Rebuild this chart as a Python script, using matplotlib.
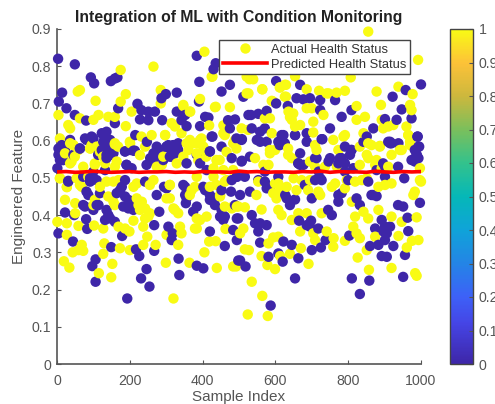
import numpy as np
import matplotlib
matplotlib.use("Agg")
import matplotlib.pyplot as plt
from matplotlib.colors import LinearSegmentedColormap
from matplotlib.lines import Line2D

plt.rcParams['font.family'] = ['Liberation Sans', 'DejaVu Sans']

# status 0 points
blue_x = [3,49,93,102,148,159,166,14,5,26,49,80,168,159,384,391,430,436,452,475,329,299,287,221,232,251,269,228,251,289,329,352,356,342,390,393,407,416,427,470,489,475,512,526,
 77,95,123,136,127,146,123,136,63,36,13,8,17,1,187,210,215,247,274,265,261,284,301,320,329,310,191,205,384,420,393,452,493,507,507,530,100,91,31,
 193,254,231,246,106,97,106,226,217,267,336,334,384,402,149,44,4,22,47,80,83,179,267,306,318,315,420,461,498,484,494,448,457,434,420,354,384,281,274,352,402,352,452,478,489,205,196,173,187,242,86,72,109,100,141,132,159,118,31,91,196,210,294,494,
 4,8,132,191,265,246,283,301,320,333,315,292,356,411,420,425,480,128,100,136,150,187,214,45,63,
 587,654,810,858,832,951,956,906,892,860,883,924,901,906,874,901,892,915,897,965,963,951,937,997,803,700,725,738,620,663,581,608,622,645,558,553,576,558,544,535,498,494,503,518,665,698,718,695,686,755,745,700,773,782,823,832,864,878,640,654,627,585,571,530,503,494,516,608,709,723,681,855,901,954,
 508,508,558,576,622,612,654,686,729,668,713,750,668,677,777,809,791,851,842,910,919,937,991,993,988,983,878,901,791,814,719,571,
 1000,958,922,947,974,933,782,809,764,723,695,677,658,668,602,602,634,723,576,553,533,750,869,901,990,995,915,938,988,974,791,809,773,727,686,654,617,571,558,535,663,709,896,626,
 13,22,4,17,81,113,132,146,155,201,256,274,310,324,306,333,72,91,109,178,164,187,201,182,136,146,114,81,77,434,452,461,356,374,347,407,420,480,301,
 553,576,631,727,773,869,549,608,663,746,782,805,983,993,915,800]
blue_y = [.82,.805,.77,.754,.76,.767,.77,.729,.705,.687,.669,.654,.687,.647,.828,.758,.792,.808,.732,.75,.729,.725,.714,.699,.682,.678,.678,.657,.655,.655,.678,.669,.639,.655,.705,.639,.664,.662,.611,.655,.657,.633,.718,.669,
 .606,.611,.62,.624,.597,.584,.575,.562,.579,.602,.584,.562,.548,.526,.571,.573,.615,.597,.584,.566,.548,.557,.584,.588,.575,.557,.535,.526,.562,.571,.539,.584,.606,.602,.544,.557,.517,.499,.492,
 .176,.208,.23,.255,.221,.263,.281,.29,.308,.304,.239,.283,.264,.257,.314,.329,.351,.407,.4,.389,.363,.344,.373,.369,.351,.333,.356,.317,.278,.36,.391,.396,.387,.427,.441,.432,.423,.409,.454,.454,.476,.476,.467,.463,.427,.423,.441,.467,.494,.49,.454,.427,.427,.414,.4,.387,.382,.459,.49,.49,.418,.414,.476,.503,
 .579,.548,.521,.535,.544,.535,.575,.584,.588,.575,.557,.548,.539,.521,.571,.611,.553,.615,.606,.553,.562,.571,.573,.562,.579,
 .157,.23,.23,.224,.188,.234,.293,.288,.29,.317,.32,.317,.333,.351,.364,.369,.387,.369,.356,.357,.393,.423,.427,.433,.345,.306,.313,.333,.275,.284,.288,.297,.329,.32,.326,.356,.373,.378,.378,.4,.391,.333,.278,.262,.385,.385,.364,.369,.373,.4,.414,.445,.436,.459,.445,.427,.454,.451,.427,.442,.454,.476,.49,.463,.454,.503,.503,.503,.494,.499,.481,.49,.503,.499,
 .546,.604,.597,.597,.615,.588,.615,.597,.604,.566,.553,.553,.535,.535,.553,.575,.539,.611,.597,.597,.593,.53,.611,.584,.562,.544,.521,.53,.517,.526,.517,.517,
 .751,.736,.718,.684,.66,.656,.664,.682,.709,.709,.714,.711,.714,.75,.76,.7,.693,.682,.68,.672,.669,.633,.633,.658,.611,.584,.597,.593,.562,.548,.584,.575,.539,.604,.62,.615,.615,.633,.624,.633,.539,.553,.539,.593,
 .588,.575,.562,.548,.602,.562,.588,.602,.566,.575,.553,.575,.579,.566,.588,.593,.503,.499,.494,.476,.459,.45,.432,.423,.414,.391,.427,.463,.423,.445,.414,.396,.445,.409,.481,.467,.454,.494,.472,
 .494,.472,.445,.494,.454,.454,.602,.597,.539,.544,.553,.562,.575,.553,.593,.494]

# status 1 points
yellow_x = [405,265,175,63,57,189,175,106,285,285,393,427,436,475,521,521,4,63,100,114,141,159,205,347,365,31,36,189,315,324,342,418,457,461,507,8,45,159,201,232,260,297,356,397,384,402,484,493,91,109,104,49,36,159,292,329,361,410,447,8,27,310,466,484,
 320,149,115,152,299,364,439,484,34,19,43,68,72,59,127,130,173,200,237,248,271,333,405,418,436,169,187,199,27,1,27,59,102,127,210,237,251,301,338,342,379,393,411,463,480,498,320,333,233,224,159,141,100,50,22,27,63,118,155,210,255,310,310,370,420,448,461,384,430,8,54,265,219,
 45,91,127,104,159,200,297,374,393,457,489,466,347,388,430,288,
 524,579,564,535,599,578,562,691,640,670,613,516,527,759,760,791,826,857,919,984,988,961,975,993,938,874,851,832,823,814,819,842,883,855,988,947,919,709,704,608,594,581,741,668,645,608,617,663,686,727,562,516,494,512,503,492,548,603,599,658,723,810,901,983,979,997,851,796,695,650,553,
 590,544,567,585,635,713,759,787,851,878,832,864,887,942,965,910,709,769,
 855,992,807,654,564,613,629,686,720,746,768,791,878,938,977,629,594,890,970,974,823,686,700,732,649,645,704,846,823,892,910,924,960,965,896,842,855,887,654,668,704,791,585,525,585,635,947,970,997,
 425,529,539,526,564,626,612,626,741,366,347,434,590,636,640,571,
 36,40,22,72,59,95,118,132,164,168,242,228,274,365,384,402,438,457,68,86,104,136,169,155,242,228,219,301,324,379,384,365,438,448,461,480,242,255,50,384,
 581,608,594,631,690,718,764,791,819,837,919,672,883,709,773,832,855,892,919,599,645,695,736,874,755,613,1000,970]
yellow_y = [.839,.799,.79,.736,.732,.725,.705,.707,.736,.7,.712,.772,.691,.69,.727,.772,.669,.66,.656,.669,.664,.664,.678,.693,.678,.642,.633,.639,.647,.638,.62,.641,.641,.615,.633,.606,.588,.59,.593,.611,.615,.615,.593,.606,.593,.584,.593,.579,.579,.584,.535,.557,.539,.53,.557,.539,.575,.557,.548,.499,.476,.481,.494,.521,
 .176,.233,.244,.269,.272,.272,.258,.262,.259,.276,.3,.32,.304,.306,.296,.324,.311,.306,.32,.342,.32,.32,.3,.329,.33,.369,.364,.356,.347,.382,.378,.371,.372,.364,.385,.369,.396,.347,.369,.351,.364,.387,.396,.363,.421,.423,.418,.405,.436,.427,.427,.45,.427,.432,.441,.475,.481,.476,.49,.476,.481,.481,.445,.467,.476,.45,.49,.503,.503,.499,.499,.494,.485,
 .588,.579,.557,.539,.593,.597,.615,.593,.602,.62,.602,.57,.557,.548,.526,.535,
 .133,.129,.183,.221,.255,.266,.29,.269,.296,.311,.29,.308,.306,.315,.338,.331,.286,.253,.258,.244,.237,.313,.331,.333,.344,.342,.306,.338,.351,.369,.396,.409,.414,.391,.394,.382,.396,.333,.351,.342,.34,.324,.356,.356,.387,.414,.4,.405,.405,.405,.415,.421,.423,.364,.351,.262,.454,.445,.485,.467,.454,.436,.481,.463,.454,.494,.499,.494,.494,.499,.49,
 .62,.553,.535,.566,.562,.575,.602,.611,.562,.548,.535,.588,.584,.575,.615,.53,.53,.53,
 .893,.817,.77,.773,.738,.743,.75,.738,.734,.727,.729,.734,.732,.745,.725,.718,.705,.696,.696,.682,.693,.687,.687,.669,.673,.656,.651,.664,.656,.656,.638,.642,.638,.615,.633,.62,.593,.586,.638,.642,.622,.615,.66,.629,.575,.579,.575,.588,.526,
 .772,.765,.765,.727,.738,.75,.743,.718,.727,.678,.696,.69,.707,.678,.663,.66,
 .593,.544,.566,.53,.575,.588,.57,.539,.544,.584,.584,.561,.53,.602,.566,.575,.548,.521,.476,.503,.441,.49,.494,.436,.418,.414,.445,.445,.414,.476,.391,.454,.481,.454,.423,.418,.391,.405,.405,.364,
 .535,.485,.459,.476,.467,.463,.485,.472,.49,.494,.485,.494,.476,.588,.575,.584,.553,.526,.562,.575,.553,.544,.53,.535,.476,.467,.49,.597]

pred_x = [1,25,50,75,100,125,150,175,200,225,250,275,300,325,350,375,400,425,450,475,500,525,550,575,600,625,650,675,700,725,750,775,800,825,850,875,900,925,950,975,1000]
pred_y = [.516,.517,.515,.516,.518,.516,.515,.516,.517,.515,.516,.516,.517,.515,.516,.515,.517,.516,.516,.515,.518,.516,.517,.515,.516,.516,.515,.517,.516,.518,.515,.517,.516,.516,.515,.518,.516,.515,.517,.516,.517]

xticks = [0,200,400,600,800,1000]
yticks = [0,.1,.2,.3,.4,.5,.6,.7,.8,.9]
yticklabels = ['0','0.1','0.2','0.3','0.4','0.5','0.6','0.7','0.8','0.9']
cbticks = [0,.1,.2,.3,.4,.5,.6,.7,.8,.9,1]
cblabels = ['0','0.1','0.2','0.3','0.4','0.5','0.6','0.7','0.8','0.9','1']

parula = LinearSegmentedColormap.from_list('parula', [
    (0.0,(.2422,.1504,.6603)),(.12,(.27,.27,.90)),(.2,(.24,.38,.97)),(.3,(.14,.52,.90)),
    (.4,(.06,.64,.85)),(.5,(.02,.72,.72)),(.6,(.20,.76,.55)),(.7,(.48,.75,.36)),
    (.8,(.80,.72,.24)),(.9,(.99,.76,.22)),(1.0,(.976,.984,.08))])

x = np.array(blue_x + yellow_x, dtype=float)
y = np.array(blue_y + yellow_y)
c = np.array([0.0]*len(blue_x) + [1.0]*len(yellow_x))
order = np.argsort(x, kind='stable')

W, H = 495, 404
fig = plt.figure(figsize=(W/100, H/100), dpi=100)
ax = fig.add_axes([57/W, 1-364/H, (421-57)/W, (364-29)/H])
gray = '#555555'

ax.scatter(x[order], y[order], c=c[order], s=56, cmap=parula, vmin=0, vmax=1,
           linewidths=0, clip_on=False, zorder=2)
ln, = ax.plot(pred_x, pred_y, color='#ff0000', lw=2.6, zorder=3, label='Predicted Health Status')

ax.set_xlim(0, 1000)
ax.set_ylim(0, .9)
ax.set_xticks(xticks)
ax.set_yticks(yticks)
ax.set_yticklabels(yticklabels)
ax.tick_params(direction='in', length=3, width=.8, color=gray, labelcolor=gray, labelsize=10.2)
ax.tick_params(axis='x', pad=7)
ax.tick_params(axis='y', pad=4)
ax.spines['top'].set_visible(False)
ax.spines['right'].set_visible(False)
for s in ['left', 'bottom']:
    ax.spines[s].set_color(gray)
    ax.spines[s].set_linewidth(1.2)
    ax.spines[s].set_zorder(1)

ax.set_title('Integration of ML with Condition Monitoring', fontsize=11.3, fontweight='bold',
             color='#222222', pad=5)
ax.set_xlabel('Sample Index', fontsize=11, color=gray, labelpad=2)
ax.set_ylabel('Engineered Feature', fontsize=11, color=gray, labelpad=4)

dot = Line2D([], [], ls='', marker='o', ms=7.5, mfc='#f9fb14', mec='none', label='Actual Health Status')
leg = ax.legend(handles=[dot, ln], loc='upper right', bbox_to_anchor=(353/364, 1-11/335),
                fontsize=9.3, frameon=True, fancybox=False, framealpha=1, edgecolor='#444444',
                borderpad=.3, labelspacing=.2, handlelength=3.4, handletextpad=.3, borderaxespad=0)
leg.get_frame().set_linewidth(1)
for t in leg.get_texts():
    t.set_color('#333333')
leg.set_zorder(5)

cax = fig.add_axes([450/W, 1-364/H, 23/W, (364-29)/H])
cb = fig.colorbar(plt.cm.ScalarMappable(cmap=parula, norm=plt.Normalize(0, 1)), cax=cax, ticks=cbticks)
cb.ax.set_yticklabels(cblabels)
cb.ax.tick_params(direction='in', length=3, width=.8, color=gray, labelcolor=gray, labelsize=10.2, pad=4)
cb.outline.set_edgecolor('#444444')
cb.outline.set_linewidth(1)

fig.savefig('out.png', dpi=100)
